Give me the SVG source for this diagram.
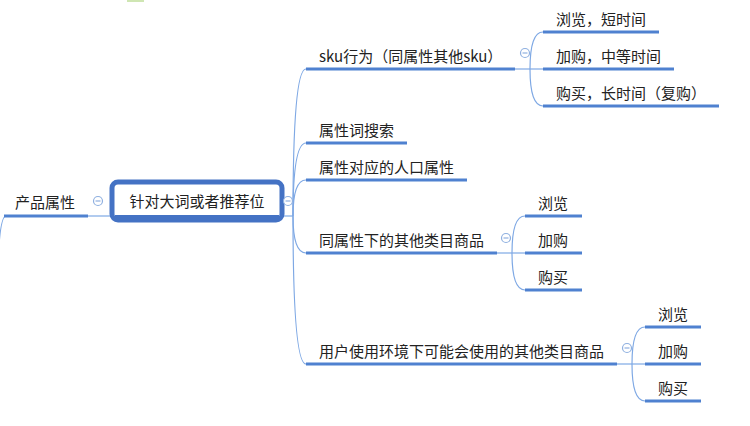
<svg xmlns="http://www.w3.org/2000/svg" width="750" height="426" viewBox="0 0 750 426">
<style>
.t{font-family:"Noto Sans CJK SC","Liberation Sans",sans-serif;font-size:15px;fill:#222}
.u{stroke:#4f81d0;stroke-width:3;fill:none}
.c{stroke:#7ea8e4;stroke-width:1.2;fill:none}
.k circle{fill:#fff;stroke:#8fb0e0;stroke-width:1.2}
.k line{stroke:#8fb0e0;stroke-width:1.2}
</style>
<rect width="750" height="426" fill="#fff"/>
<rect x="127" y="0" width="17" height="2" fill="#cfe6b3"/>
<g id="connectors">
<path class="c" d="M-2,262 Q0,216 6,216"/>
<path class="c" d="M88,216 H112"/>
<path class="c" d="M282,216 H293"/>
<path class="c" d="M293,216 Q293,69 306,69"/>
<path class="c" d="M293,216 Q293,143 306,143"/>
<path class="c" d="M293,216 Q293,180 306,180"/>
<path class="c" d="M293,216 Q293,253 306,253"/>
<path class="c" d="M293,216 Q293,364 306,364"/>
<path class="c" d="M515,69 H543"/>
<path class="c" d="M530,69 Q530,32 543,32"/>
<path class="c" d="M530,69 Q530,106 543,106"/>
<path class="c" d="M497,253 H525"/>
<path class="c" d="M512,253 Q512,216 525,216"/>
<path class="c" d="M512,253 Q512,290 525,290"/>
<path class="c" d="M617,364 H645"/>
<path class="c" d="M632,364 Q632,327 645,327"/>
<path class="c" d="M632,364 Q632,401 645,401"/>
</g>
<g id="n-product">
<text class="t" x="15" y="208">产品属性</text>
<path class="u" d="M4,216 H88"/>
<g class="k"><circle cx="98" cy="201" r="4.5"/><line x1="95.5" y1="201" x2="100.5" y2="201"/></g>
</g>
<g id="n-root">
<rect x="112" y="182" width="170" height="38" rx="6" fill="#fff" stroke="#4472c4" stroke-width="5"/>
<path d="M115,216.5 H279" stroke="#4472c4" stroke-width="3"/>
<text class="t" x="197" y="207" text-anchor="middle">针对大词或者推荐位</text>
<g class="k"><circle cx="288" cy="201" r="4.5"/><line x1="285.5" y1="201" x2="290.5" y2="201"/></g>
</g>
<g id="n-sku">
<text class="t" x="319" y="62">sku行为（同属性其他sku）</text>
<path class="u" d="M306,69 H515"/>
<g class="k"><circle cx="525" cy="53" r="4.5"/><line x1="522.5" y1="53" x2="527.5" y2="53"/></g>
</g>
<g id="n-sku-1"><text class="t" x="556" y="25">浏览，短时间</text><path class="u" d="M543,32 H659"/></g>
<g id="n-sku-2"><text class="t" x="556" y="62">加购，中等时间</text><path class="u" d="M543,69 H674"/></g>
<g id="n-sku-3"><text class="t" x="556" y="99">购买，长时间（复购）</text><path class="u" d="M543,106 H719"/></g>
<g id="n-search"><text class="t" x="319" y="136">属性词搜索</text><path class="u" d="M306,143 H407"/></g>
<g id="n-pop"><text class="t" x="319" y="173">属性对应的人口属性</text><path class="u" d="M306,180 H467"/></g>
<g id="n-same">
<text class="t" x="319" y="246">同属性下的其他类目商品</text>
<path class="u" d="M306,253 H497"/>
<g class="k"><circle cx="506" cy="238" r="4.5"/><line x1="503.5" y1="238" x2="508.5" y2="238"/></g>
</g>
<g id="n-same-1"><text class="t" x="538" y="209">浏览</text><path class="u" d="M525,216 H582"/></g>
<g id="n-same-2"><text class="t" x="538" y="246">加购</text><path class="u" d="M525,253 H582"/></g>
<g id="n-same-3"><text class="t" x="538" y="283">购买</text><path class="u" d="M525,290 H582"/></g>
<g id="n-env">
<text class="t" x="319" y="357">用户使用环境下可能会使用的其他类目商品</text>
<path class="u" d="M306,364 H617"/>
<g class="k"><circle cx="627" cy="348" r="4.5"/><line x1="624.5" y1="348" x2="629.5" y2="348"/></g>
</g>
<g id="n-env-1"><text class="t" x="658" y="320">浏览</text><path class="u" d="M645,327 H701"/></g>
<g id="n-env-2"><text class="t" x="658" y="357">加购</text><path class="u" d="M645,364 H701"/></g>
<g id="n-env-3"><text class="t" x="658" y="394">购买</text><path class="u" d="M645,401 H701"/></g>
</svg>
